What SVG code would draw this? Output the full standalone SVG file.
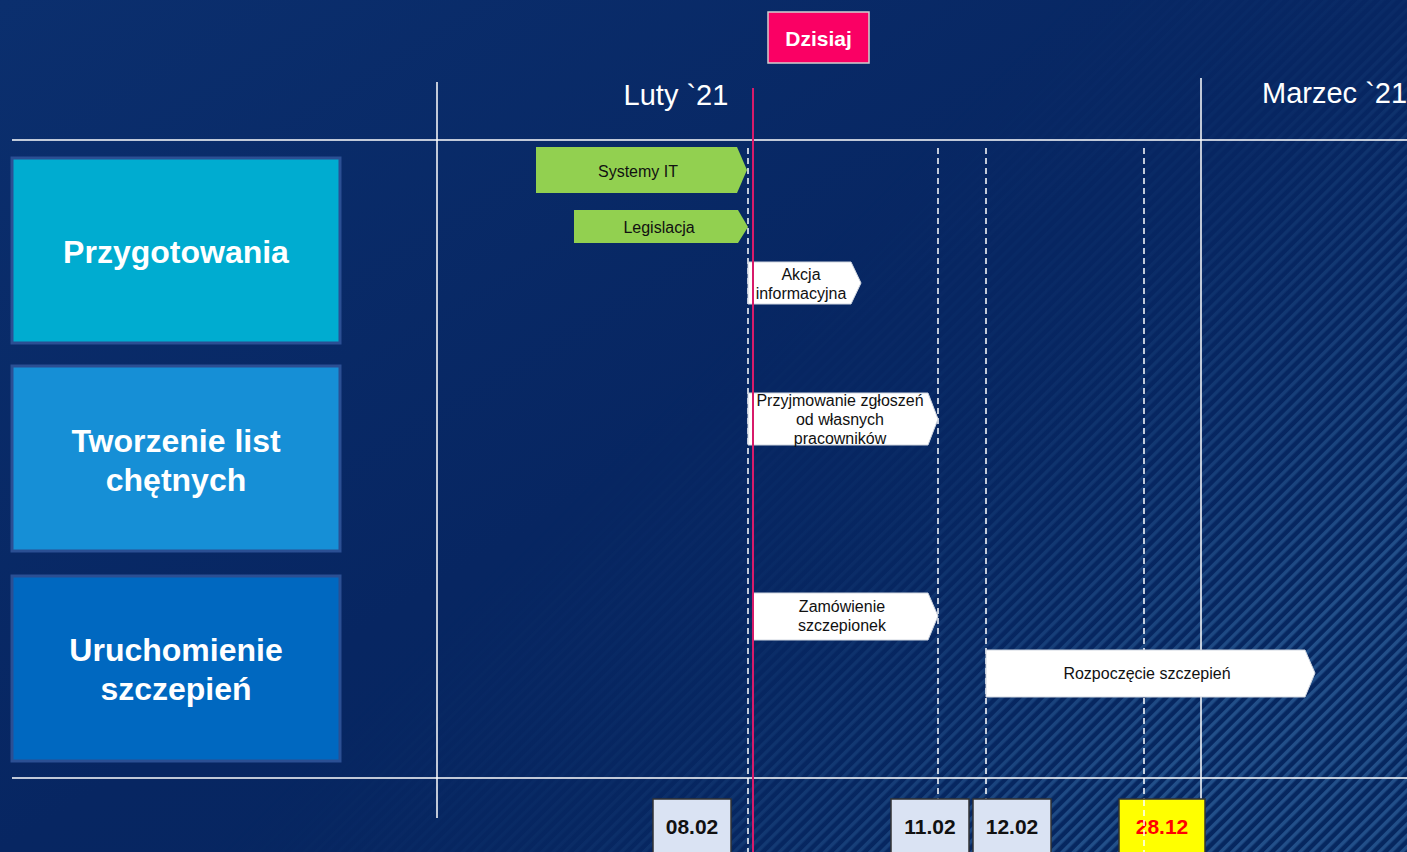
<svg xmlns="http://www.w3.org/2000/svg" width="1407" height="852" viewBox="0 0 1407 852">
<defs>
<style>
.lane{stroke:#2b4f93;stroke-width:3}
.lt{font-family:"Liberation Sans",Arial,sans-serif;font-weight:bold;fill:#ffffff;font-size:32px;text-anchor:middle}
.tt{font-family:"Liberation Sans",Arial,sans-serif;fill:#111111;font-size:16px;text-anchor:middle}
.green{fill:#92d050}
.white{fill:#ffffff;stroke:#d0d6e0;stroke-width:1}
.grid{stroke:#ffffff;stroke-width:1.5;fill:none}
.dash{stroke:#ffffff;stroke-width:1.5;stroke-dasharray:6,4;fill:none}
.date{fill:#dae3f3;stroke:#333333;stroke-width:1.5}
.dt{font-family:"Liberation Sans",Arial,sans-serif;font-weight:bold;font-size:21px;text-anchor:middle;fill:#111111}
.month{font-family:"Liberation Sans",Arial,sans-serif;fill:#ffffff;font-size:29px}
</style>
<linearGradient id="bg" x1="0" y1="0" x2="1" y2="1">
<stop offset="0" stop-color="#0b2f6e"/>
<stop offset="0.5" stop-color="#072662"/>
<stop offset="1" stop-color="#06275f"/>
</linearGradient>
<pattern id="stripes" width="8" height="8" patternUnits="userSpaceOnUse" patternTransform="rotate(45)">
<rect x="0" y="0" width="3.5" height="8" fill="#2a5a94"/>
</pattern>
<linearGradient id="fade" gradientUnits="userSpaceOnUse" x1="700" y1="350" x2="1150" y2="800">
<stop offset="0" stop-color="#000"/>
<stop offset="0.4" stop-color="#222"/>
<stop offset="1" stop-color="#fff"/>
</linearGradient>
<mask id="m"><rect width="1407" height="852" fill="url(#fade)"/></mask>
</defs>
<rect width="1407" height="852" fill="url(#bg)"/>
<rect width="1407" height="852" fill="url(#stripes)" mask="url(#m)" opacity="0.8"/>

<g id="connectors">
<line class="grid" x1="12" y1="140" x2="1407" y2="140"/>
<line class="grid" x1="12" y1="778" x2="1407" y2="778"/>
<line class="grid" x1="437" y1="82" x2="437" y2="818"/>
<line class="grid" x1="1201" y1="78" x2="1201" y2="800"/>
<line class="dash" x1="748" y1="148" x2="748" y2="852"/>
<line class="dash" x1="938" y1="148" x2="938" y2="800"/>
<line class="dash" x1="986" y1="148" x2="986" y2="800"/>
<line class="dash" x1="1144" y1="148" x2="1144" y2="852"/>
</g>

<g id="month-luty"><text class="month" x="676" y="105" text-anchor="middle">Luty `21</text></g>
<g id="month-marzec"><text class="month" x="1262" y="103">Marzec `21</text></g>

<g id="lane-przygotowania">
<rect class="lane" x="12" y="158" width="328" height="185" fill="#00acd0"/>
<text class="lt" x="176" y="263">Przygotowania</text>
</g>
<g id="lane-tworzenie">
<rect class="lane" x="12" y="366" width="328" height="185" fill="#168fd6"/>
<text class="lt" x="176" y="452">Tworzenie list</text>
<text class="lt" x="176" y="491">chętnych</text>
</g>
<g id="lane-uruchomienie">
<rect class="lane" x="12" y="576" width="328" height="185" fill="#0068c0"/>
<text class="lt" x="176" y="661">Uruchomienie</text>
<text class="lt" x="176" y="700">szczepień</text>
</g>

<g id="task-systemy">
<polygon class="green" points="536,147 737,147 747,170 737,193 536,193"/>
<text class="tt" x="638" y="177">Systemy IT</text>
</g>
<g id="task-legislacja">
<polygon class="green" points="574,210 738,210 748,227 738,243 574,243"/>
<text class="tt" x="659" y="233">Legislacja</text>
</g>
<g id="task-akcja">
<polygon class="white" points="748,262 851,262 861,283 851,304 748,304"/>
<text class="tt" x="801" y="280">Akcja</text>
<text class="tt" x="801" y="299">informacyjna</text>
</g>
<g id="task-przyjmowanie">
<polygon class="white" points="748,393 928,393 938,419 928,445 748,445"/>
<text class="tt" x="840" y="406">Przyjmowanie zgłoszeń</text>
<text class="tt" x="840" y="425">od własnych</text>
<text class="tt" x="840" y="444">pracowników</text>
</g>
<g id="task-zamowienie">
<polygon class="white" points="753,593 928,593 938,616 928,640 753,640"/>
<text class="tt" x="842" y="612">Zamówienie</text>
<text class="tt" x="842" y="631">szczepionek</text>
</g>
<g id="task-rozpoczecie">
<polygon class="white" points="986,650 1305,650 1315,673 1305,697 986,697"/>
<text class="tt" x="1147" y="679">Rozpoczęcie szczepień</text>
</g>

<g id="today-line"><line x1="753" y1="88" x2="753" y2="852" stroke="#d81b6a" stroke-width="2"/></g>
<g id="today">
<rect x="768" y="12" width="101" height="51" fill="#fa0064" stroke="#d0d0d0" stroke-width="1.5"/>
<text x="818.5" y="46" font-family="Liberation Sans, Arial, sans-serif" font-weight="bold" font-size="21" fill="#ffffff" text-anchor="middle">Dzisiaj</text>
</g>

<g id="date-0802"><rect class="date" x="653" y="799" width="78" height="60"/><text class="dt" x="692" y="834">08.02</text></g>
<g id="date-1102"><rect class="date" x="891" y="799" width="78" height="60"/><text class="dt" x="930" y="834">11.02</text></g>
<g id="date-1202"><rect class="date" x="973" y="799" width="78" height="60"/><text class="dt" x="1012" y="834">12.02</text></g>
<g id="date-2812"><rect x="1119" y="799" width="86" height="60" fill="#ffff00" stroke="#333333" stroke-width="1.5"/><text class="dt" x="1162" y="834" style="fill:#ff0000">28.12</text></g>
<line class="dash" x1="1144" y1="800" x2="1144" y2="852"/>
</svg>
